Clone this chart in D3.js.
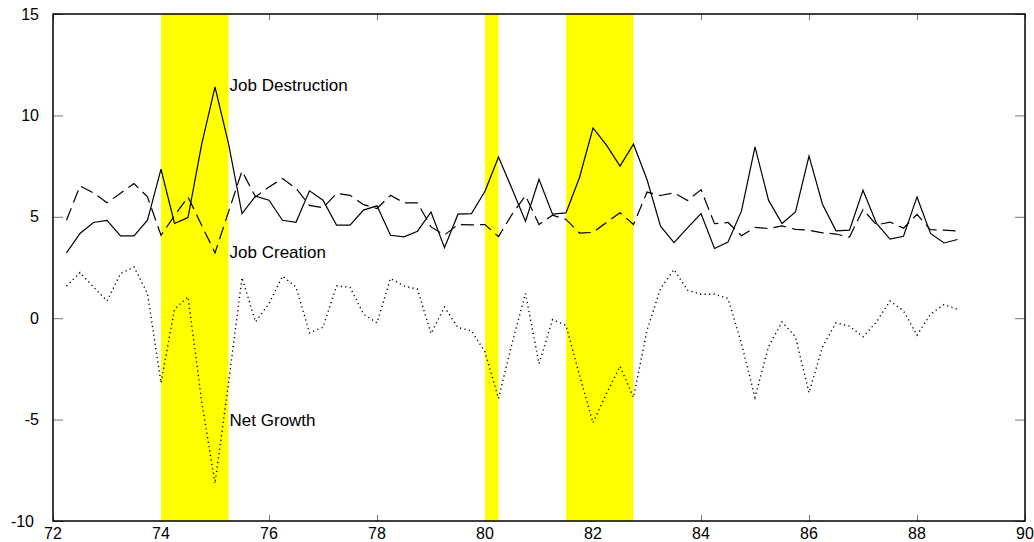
<!DOCTYPE html>
<html lang="en">
<head>
<meta charset="UTF-8">
<title>Job Creation and Destruction</title>
<script src="https://cdn.jsdelivr.net/npm/d3@7"></script>
<style>
  body { margin: 0; background: #fff; }
  text { font-family: "Liberation Sans", Arial, sans-serif; fill: #000; }
</style>
</head>
<body>
<svg id="chart" width="1034" height="542"></svg>
<script>
// quarterly dates (year - 1900)
var quarters = [72.25, 72.5, 72.75, 73, 73.25, 73.5, 73.75, 74, 74.25, 74.5, 74.75, 75,
  75.25, 75.5, 75.75, 76, 76.25, 76.5, 76.75, 77, 77.25, 77.5, 77.75, 78,
  78.25, 78.5, 78.75, 79, 79.25, 79.5, 79.75, 80, 80.25, 80.5, 80.75, 81,
  81.25, 81.5, 81.75, 82, 82.25, 82.5, 82.75, 83, 83.25, 83.5, 83.75, 84,
  84.25, 84.5, 84.75, 85, 85.25, 85.5, 85.75, 86, 86.25, 86.5, 86.75, 87,
  87.25, 87.5, 87.75, 88, 88.25, 88.5, 88.75];

var jobDestruction = [3.22, 4.18, 4.72, 4.82, 4.06, 4.06, 4.83, 7.35, 4.67, 4.96, 8.53, 11.41,
  8.61, 5.16, 6.02, 5.82, 4.83, 4.73, 6.28, 5.82, 4.59, 4.59, 5.33, 5.54,
  4.09, 4.01, 4.29, 5.24, 3.48, 5.13, 5.16, 6.26, 7.95, 6.38, 4.78, 6.85,
  5.13, 5.19, 6.94, 9.38, 8.53, 7.50, 8.58, 6.84, 4.54, 3.73, 4.45, 5.16,
  3.44, 3.76, 5.29, 8.45, 5.82, 4.67, 5.24, 7.99, 5.62, 4.31, 4.34, 6.31,
  4.67, 3.90, 4.04, 5.98, 4.18, 3.71, 3.88];

var jobCreation = [4.83, 6.52, 6.18, 5.69, 6.16, 6.64, 5.98, 4.09, 5.05, 5.98, 4.60, 3.22,
  5.24, 7.26, 5.98, 6.47, 6.89, 6.40, 5.56, 5.45, 6.15, 6.06, 5.60, 5.41,
  6.06, 5.69, 5.69, 4.50, 4.10, 4.62, 4.60, 4.62, 4.02, 5.12, 6.04, 4.62,
  5.08, 4.87, 4.20, 4.23, 4.72, 5.20, 4.62, 6.22, 6.05, 6.18, 5.80, 6.34,
  4.66, 4.72, 4.07, 4.48, 4.42, 4.55, 4.38, 4.34, 4.21, 4.15, 4.00, 5.36,
  4.60, 4.74, 4.44, 5.12, 4.36, 4.34, 4.30];

var netGrowth = [1.58, 2.25, 1.54, 0.85, 2.20, 2.53, 1.22, -3.19, 0.45, 1.05, -4.04, -8.15,
  -3.20, 2.00, -0.18, 0.72, 2.07, 1.54, -0.72, -0.45, 1.59, 1.53, 0.20, -0.23,
  1.96, 1.59, 1.43, -0.76, 0.55, -0.46, -0.62, -1.66, -3.96, -1.25, 1.22, -2.24,
  -0.07, -0.35, -2.81, -5.16, -3.71, -2.37, -3.91, -0.59, 1.46, 2.40, 1.38, 1.18,
  1.18, 0.97, -1.25, -3.91, -1.41, -0.18, -0.92, -3.68, -1.41, -0.23, -0.39, -0.92,
  -0.18, 0.85, 0.36, -0.84, 0.20, 0.67, 0.44];

// recessions (shaded)
var recessions = [[74.0, 75.25], [80.0, 80.25], [81.5, 82.75]];

var xTicks = [72, 74, 76, 78, 80, 82, 84, 86, 88, 90];
var yTicks = [-10, -5, 0, 5, 10, 15];

var seriesNames = ["Job Destruction", "Job Creation", "Net Growth"];
var labelAt = [[75.27, 11.49], [75.27, 3.27], [75.27, -5.0]];

var marge = { top: 14, left: 53, right: 9, bottom: 21 };
var svg = d3.select("#chart");
var width = +svg.attr("width");
var height = +svg.attr("height");
var w = width - marge.left - marge.right;
var h = height - marge.top - marge.bottom;

var x = d3.scaleLinear().domain([72, 90]).range([0, w]);
var y = d3.scaleLinear().domain([-10, 15]).range([h, 0]);

var g = svg.append("g")
  .attr("transform", "translate(" + marge.left + "," + marge.top + ")");

// ticks (inward, mirrored)
var tickColor = "#777";
g.append("g").call(d3.axisLeft(y).tickValues(yTicks).tickSize(-10).tickFormat(""))
  .call(function (a) { a.select(".domain").remove(); a.selectAll("line").attr("stroke", tickColor); });
g.append("g").attr("transform", "translate(" + w + ",0)")
  .call(d3.axisRight(y).tickValues(yTicks).tickSize(-10).tickFormat(""))
  .call(function (a) { a.select(".domain").remove(); a.selectAll("line").attr("stroke", tickColor); });
g.append("g").attr("transform", "translate(0," + h + ")")
  .call(d3.axisBottom(x).tickValues(xTicks).tickSize(-6).tickFormat(""))
  .call(function (a) { a.select(".domain").remove(); a.selectAll("line").attr("stroke", tickColor); });
g.append("g")
  .call(d3.axisTop(x).tickValues(xTicks).tickSize(-6).tickFormat(""))
  .call(function (a) { a.select(".domain").remove(); a.selectAll("line").attr("stroke", tickColor); });

// recession bands
g.selectAll(".band").data(recessions).enter().append("rect")
  .attr("x", function (d) { return x(d[0]); })
  .attr("y", 0)
  .attr("width", function (d) { return x(d[1]) - x(d[0]); })
  .attr("height", h)
  .attr("fill", "#ffff00");

// tick labels
g.selectAll(".ylab").data(yTicks).enter().append("text")
  .attr("x", function (d) { return d === -10 ? -19 : -14; })
  .attr("y", function (d) { return y(d); })
  .attr("dy", "0.35em")
  .attr("text-anchor", "end")
  .style("font-size", "16px")
  .text(function (d) { return d; });

g.selectAll(".xlab").data(xTicks).enter().append("text")
  .attr("x", function (d) { return x(d); })
  .attr("y", h + 12)
  .attr("dy", "0.35em")
  .attr("text-anchor", "middle")
  .style("font-size", "16px")
  .text(function (d) { return d; });

// series
var series = [
  { values: jobDestruction, dash: null },
  { values: jobCreation, dash: "13,6" },
  { values: netGrowth, dash: "1.2,3.3" }
];
var line = d3.line()
  .x(function (d, i) { return x(quarters[i]); })
  .y(function (d) { return y(d); });

g.selectAll(".series").data(series).enter().append("path")
  .attr("d", function (s) { return line(s.values); })
  .attr("fill", "none")
  .attr("stroke", "#000")
  .attr("stroke-width", function (s) { return s.dash === "1.2,3.3" ? 1.4 : 1.2; })
  .attr("stroke-dasharray", function (s) { return s.dash; });

// series labels
g.selectAll(".lab").data(seriesNames).enter().append("text")
  .attr("x", function (d, i) { return x(labelAt[i][0]); })
  .attr("y", function (d, i) { return y(labelAt[i][1]); })
  .attr("dy", "0.35em")
  .style("font-size", "17px")
  .text(function (d) { return d; });

// frame
g.append("rect")
  .attr("x", 0).attr("y", 0).attr("width", w).attr("height", h)
  .attr("fill", "none").attr("stroke", "#000").attr("stroke-width", 1.5);
</script>
</body>
</html>
